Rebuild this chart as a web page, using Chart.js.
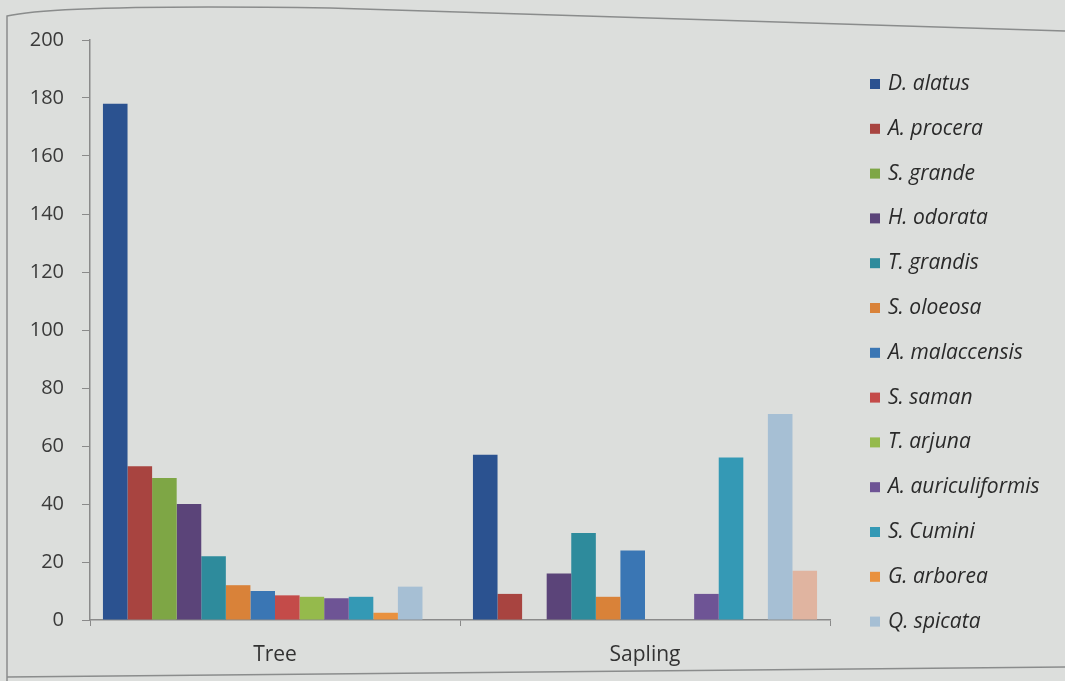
<!DOCTYPE html>
<html>
<head>
<meta charset="utf-8">
<script src="https://cdn.jsdelivr.net/npm/chart.js@4.4.1/dist/chart.umd.min.js"></script>
<style>
  html, body { margin: 0; padding: 0; background: #dcdedc; }
  #wrap { width: 1065px; height: 681px; position: relative; }
</style>
</head>
<body>
<div id="wrap"><canvas id="c" width="1065" height="681"></canvas></div>
<script>
// Stand categories
const categories = ['Tree', 'Sapling'];

// Species names (legend order)
const species = [
  'D. alatus', 'A. procera', 'S. grande', 'H. odorata', 'T. grandis',
  'S. oloeosa', 'A. malaccensis', 'S. saman', 'T. arjuna',
  'A. auriculiformis', 'S. Cumini', 'G. arborea', 'Q. spicata', 'Others'
];

// Counts per species: [Tree, Sapling]
const dAlatus = [178, 57];
const aProcera = [53, 9];
const sGrande = [49, 0];
const hOdorata = [40, 16];
const tGrandis = [22, 30];
const sOloeosa = [12, 8];
const aMalaccensis = [10, 24];
const sSaman = [8.5, 0];
const tArjuna = [8, 0];
const aAuriculiformis = [7.5, 9];
const sCumini = [8, 56];
const gArborea = [2.5, 0];
const qSpicata = [11.5, 71];
const others = [0, 17];

const seriesValues = [
  dAlatus, aProcera, sGrande, hOdorata, tGrandis, sOloeosa, aMalaccensis,
  sSaman, tArjuna, aAuriculiformis, sCumini, gArborea, qSpicata, others
];

// Y axis tick values
const yTicks = [0, 20, 40, 60, 80, 100, 120, 140, 160, 180, 200];

// Number of species listed in the legend
const legendCount = 13;

const palette = [
  '#2b5290', '#a84440', '#7ea645', '#5b4479', '#2e8b9c', '#d98239',
  '#3a76b4', '#c44b49', '#95ba4c', '#6e5495', '#3499b5', '#e9913e',
  '#a6bfd4', '#e0b4a0'
];

const datasets = species.map((name, i) => ({
  label: name,
  data: seriesValues[i],
  backgroundColor: palette[i],
  borderWidth: 0,
  categoryPercentage: 0.93,
  barPercentage: 1.0
}));

// Paper background and frame lines
const paperPlugin = {
  id: 'paper',
  beforeDraw(chart) {
    const ctx = chart.ctx;
    ctx.save();
    ctx.fillStyle = '#dcdedc';
    ctx.fillRect(0, 0, chart.width, chart.height);
    ctx.strokeStyle = '#8a8c8c';
    ctx.lineWidth = 1.5;
    ctx.beginPath();
    ctx.moveTo(7, 681);
    ctx.lineTo(7, 16);
    ctx.quadraticCurveTo(60, 4, 330, 8);
    ctx.quadraticCurveTo(700, 18, 1065, 31);
    ctx.stroke();
    ctx.beginPath();
    ctx.moveTo(7, 677);
    ctx.lineTo(1065, 667);
    ctx.stroke();
    ctx.restore();
  }
};

// Vertical species key to the right of the plot
const keyPlugin = {
  id: 'speciesKey',
  afterDraw(chart) {
    const ctx = chart.ctx;
    const x0 = chart.chartArea.right + 40;
    const y0 = 84;
    const step = 44.8;
    ctx.save();
    ctx.font = 'italic 21px "Open Sans"';
    ctx.textBaseline = 'middle';
    ctx.textAlign = 'left';
    chart.data.datasets.slice(0, legendCount).forEach((ds, i) => {
      const y = y0 + i * step;
      ctx.fillStyle = ds.backgroundColor;
      ctx.fillRect(x0, y - 5, 10, 10);
      ctx.fillStyle = '#2a2a2a';
      ctx.fillText(ds.label, x0 + 18, y);
    });
    ctx.restore();
  }
};

new Chart(document.getElementById('c'), {
  type: 'bar',
  data: { labels: categories, datasets },
  plugins: [paperPlugin, keyPlugin],
  options: {
    responsive: false,
    animation: false,
    layout: { padding: { top: 40, left: 0, right: 235, bottom: 0 } },
    plugins: {
      tooltip: { enabled: false },
      legend: { display: false }
    },
    scales: {
      x: {
        grid: {
          display: true,
          offset: true,
          drawOnChartArea: false,
          tickLength: 6,
          color: '#8a8a8a'
        },
        border: { color: '#8a8a8a', width: 1.5 },
        ticks: {
          color: '#333',
          font: { family: 'Open Sans', size: 21 },
          padding: 16
        },
        afterFit(scale) { scale.height = 61; }
      },
      y: {
        min: 0,
        max: 200,
        afterBuildTicks(scale) { scale.ticks = yTicks.map(v => ({ value: v })); },
        grid: {
          display: true,
          drawOnChartArea: false,
          tickLength: 8,
          color: '#8a8a8a'
        },
        border: { color: '#8a8a8a', width: 1.5 },
        ticks: {
          color: '#3a3a3a',
          font: { family: 'Open Sans', size: 20 },
          padding: 18
        },
        afterFit(scale) { scale.width = 90; }
      }
    }
  }
});
</script>
</body>
</html>
